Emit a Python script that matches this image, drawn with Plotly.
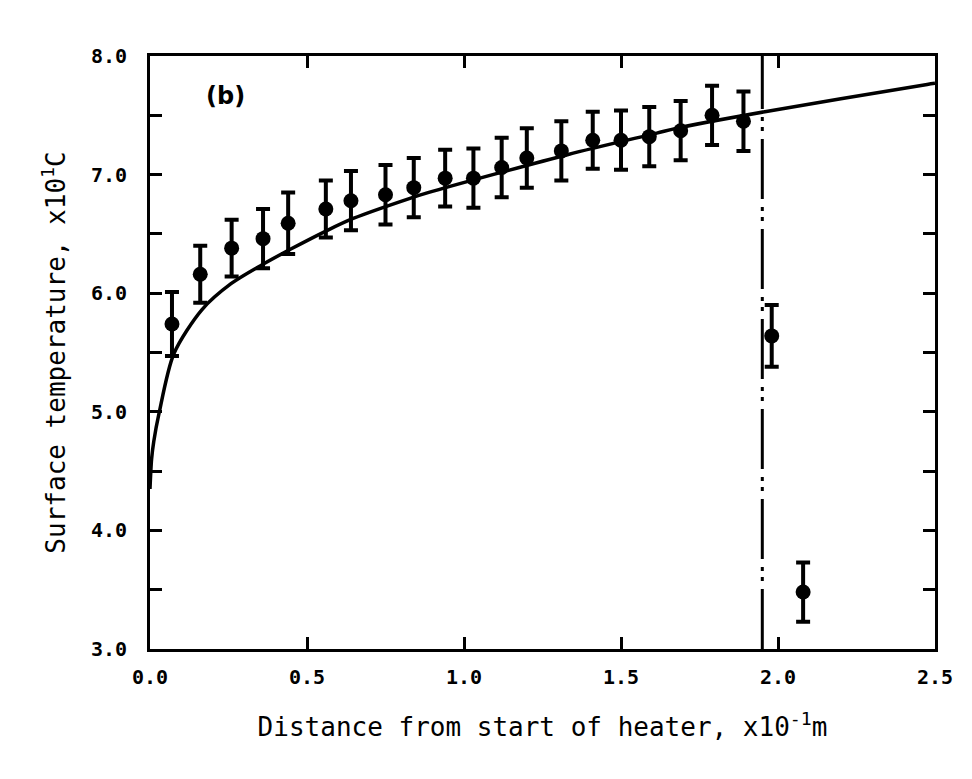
import plotly.graph_objects as go

# Measured data points (distance x10^-1 m, temperature x10^1 C)
x_pts = [0.07, 0.16, 0.26, 0.36, 0.44, 0.56, 0.64, 0.75, 0.84, 0.94, 1.03,
         1.12, 1.20, 1.31, 1.41, 1.50, 1.59, 1.69, 1.79, 1.89, 1.98, 2.08]
y_pts = [5.74, 6.16, 6.38, 6.46, 6.59, 6.71, 6.78, 6.83, 6.89, 6.97, 6.97,
         7.06, 7.14, 7.20, 7.29, 7.29, 7.32, 7.37, 7.50, 7.45, 5.64, 3.48]
y_err = [0.27, 0.24, 0.24, 0.25, 0.26, 0.24, 0.25, 0.25, 0.25, 0.24, 0.25,
         0.25, 0.25, 0.25, 0.24, 0.25, 0.25, 0.25, 0.25, 0.25, 0.26, 0.25]

# Solid prediction curve
curve_x = [0.0, 0.005, 0.012, 0.029, 0.076, 0.165, 0.258, 0.357, 0.447,
           0.565, 0.647, 0.828, 0.888, 1.332, 1.614, 1.675, 1.958, 2.475, 2.5]
curve_y = [4.35, 4.60, 4.75, 4.99, 5.49, 5.86, 6.08, 6.24, 6.37,
           6.53, 6.63, 6.80, 6.85, 7.17, 7.35, 7.39, 7.53, 7.76, 7.77]

# Dash-dot marker of end of heater
end_x = [1.95, 1.95]
end_y = [3.0, 8.0]

x_ticks = [0.0, 0.5, 1.0, 1.5, 2.0, 2.5]
y_ticks = [3.0, 4.0, 5.0, 6.0, 7.0, 8.0]

fig = go.Figure()
fig.add_trace(go.Scatter(x=curve_x, y=curve_y, mode="lines",
                         line=dict(color="black", width=3.5, shape="spline",
                                   smoothing=0.8),
                         showlegend=False, hoverinfo="skip"))
fig.add_trace(go.Scatter(x=end_x, y=end_y, mode="lines",
                         line=dict(color="black", width=3,
                                   dash="60px,8px,4px,6px,4px,8px"),
                         showlegend=False, hoverinfo="skip"))
fig.add_trace(go.Scatter(x=x_pts, y=y_pts, mode="markers",
                         marker=dict(color="black", size=15),
                         error_y=dict(type="data", array=y_err, visible=True,
                                      color="black", thickness=4, width=7),
                         showlegend=False))

fig.add_annotation(x=0.24, y=7.66, text="(b)", showarrow=False,
                   font=dict(family="DejaVu Sans", size=24, color="black",
                             weight="bold"))

tick_font = dict(family="DejaVu Sans Mono", size=20, color="black", weight="bold")
title_font = dict(family="DejaVu Sans Mono", size=26, color="black")
axis_common = dict(showgrid=False, zeroline=False, showline=True,
                   linecolor="black", linewidth=3, mirror="ticks",
                   ticks="inside", ticklen=12, tickwidth=3, tickcolor="black",
                   tickfont=tick_font)

fig.update_xaxes(range=[0, 2.5], tickvals=x_ticks,
                 ticktext=[f"{v:.1f}" for v in x_ticks],
                 title=dict(text="Distance from start of heater, x10<sup>-1</sup>m",
                            font=title_font, standoff=30),
                 ticklabelstandoff=8,
                 **axis_common)
fig.update_yaxes(range=[3, 8], tickvals=y_ticks,
                 ticktext=[f"{v:.1f}" for v in y_ticks],
                 minor=dict(dtick=0.5, tick0=3, ticks="inside", ticklen=12,
                            tickwidth=3, tickcolor="black"),
                 title=dict(text="Surface temperature, x10<sup>1</sup>C",
                            font=title_font, standoff=18),
                 ticklabelstandoff=16,
                 **axis_common)

fig.update_layout(width=972, height=779, plot_bgcolor="white", paper_bgcolor="white",
                  margin=dict(l=142, r=45, t=48, b=138))

fig.write_html("out.html")
